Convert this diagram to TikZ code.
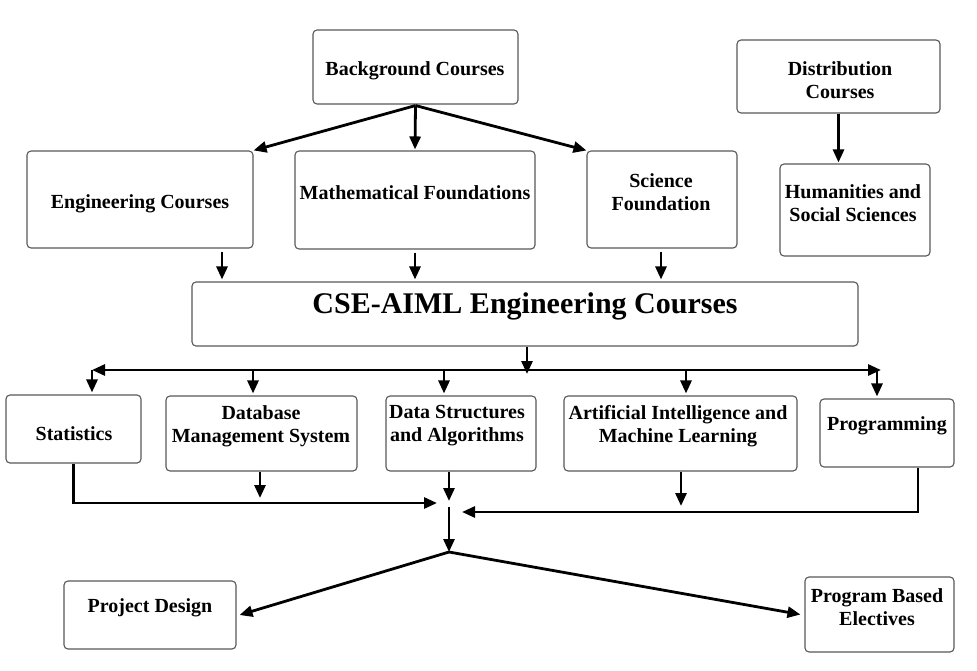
\documentclass[tikz,border=0pt]{standalone}
\usepackage{fontspec}
\setmainfont{Liberation Serif}
\usetikzlibrary{arrows.meta}
\begin{document}
\begin{tikzpicture}[x=1pt,y=-1pt,
 box/.style={draw=black!65, line width=1.1pt, rounded corners=4pt, fill=white, inner sep=0pt},
 lbl/.style={font=\bfseries\fontsize{20}{23}\selectfont, align=center, inner sep=0pt, yshift=-3pt},
 big/.style={font=\bfseries\fontsize{30}{34}\selectfont, inner sep=0pt, yshift=-3pt},
 arr/.style={line width=2.8pt, -{Triangle[length=13pt,width=11pt]}},
 ln/.style={line width=2.8pt}]
\useasboundingbox[fill=white] (0,0) rectangle (977,670);

% boxes
\node[box, minimum width=205pt, minimum height=74pt] (bg)   at (415.5,67) {};
\node[box, minimum width=203pt, minimum height=73pt] (dist) at (838.5,76.5) {};
\node[box, minimum width=226pt, minimum height=97pt] (eng)  at (140,199.5) {};
\node[box, minimum width=240pt, minimum height=98pt] (math) at (415,200) {};
\node[box, minimum width=150pt, minimum height=97pt] (sci)  at (662,199.5) {};
\node[box, minimum width=150pt, minimum height=92pt] (hum)  at (855,210) {};
\node[box, minimum width=666pt, minimum height=64pt] (cse)  at (525,314) {};
\node[box, minimum width=135pt, minimum height=68pt] (stat) at (73.5,429) {};
\node[box, minimum width=191pt, minimum height=75pt] (dbms) at (261.5,433.5) {};
\node[box, minimum width=150pt, minimum height=75pt] (dsa)  at (461,433.5) {};
\node[box, minimum width=233pt, minimum height=75pt] (ai)   at (680.5,433.5) {};
\node[box, minimum width=134pt, minimum height=68pt] (prog) at (887,433) {};
\node[box, minimum width=172pt, minimum height=68pt] (pd)   at (150,615) {};
\node[box, minimum width=149pt, minimum height=75pt] (pbe)  at (879.5,614.5) {};

% texts
\node[lbl] (bgT)   at (415,68)  {Background Courses};
\node[lbl] (distT) at (840,77)  {Distribution\\Courses};
\node[lbl] (engT)  at (140,201) {Engineering Courses};
\node[lbl] (mathT) at (415,190) {Mathematical Foundations};
\node[lbl] (sciT)  at (661,189) {Science\\Foundation};
\node[lbl] (humT)  at (853,200) {Humanities and\\Social Sciences};
\node[big] (cseT)  at (525,303) {CSE-AIML Engineering Courses};
\node[lbl] (statT) at (74,431)  {Statistics};
\node[lbl] (dbmsT) at (261,423) {Database\\Management System};
\node[lbl] (dsaT)  at (457,423) {Data Structures\\and Algorithms};
\node[lbl] (aiT)   at (678,423) {Artificial Intelligence and\\Machine Learning};
\node[lbl] (progT) at (887,423) {Programming};
\node[lbl] (pdT)   at (150,605) {Project Design};
\node[lbl] (pbeT)  at (877,604) {Program Based\\Electives};

% top connectors
\draw[arr] ([yshift=-1pt]bg.south) -- (eng.north east);
\draw[arr] ([yshift=-1pt]bg.south) -- ([yshift=1pt]math.north);
\draw[arr] ([yshift=-1pt]bg.south) -- (sci.north west);
\draw[arr, shorten <=3pt, shorten >=2pt] ([xshift=82pt]eng.south) -- ([xshift=82pt]eng.south |- cse.north);
\draw[arr, shorten <=3pt, shorten >=2pt] (math.south) -- (math.south |- cse.north);
\draw[arr, shorten <=3pt, shorten >=2pt] ([xshift=-1pt]sci.south) -- ([xshift=-1pt]sci.south |- cse.north);
\draw[arr, shorten >=1pt] (dist.south) -- (dist.south |- hum.north);

% bus
\coordinate (busL) at (92,370);
\coordinate (busR) at (881,370);
\coordinate (bus)  at (527,374);
\draw[arr] ([xshift=2pt]cse.south) -- (bus);
\draw[ln, {Triangle[length=13pt,width=11pt]}-{Triangle[length=13pt,width=11pt]}] (busL) -- (busR);
\coordinate (t1) at (92,370);
\coordinate (t2) at (253,370);
\coordinate (t3) at (444,370);
\coordinate (t4) at (686,370);
\coordinate (t5) at (877,370);
\draw[arr, shorten >=2pt] (t1) -- (t1 |- stat.north);
\draw[arr, shorten >=2pt] (t2) -- (t2 |- dbms.north);
\draw[arr, shorten >=2pt] (t3) -- (t3 |- dsa.north);
\draw[arr, shorten >=2pt] (t4) -- (t4 |- ai.north);
\draw[arr, shorten >=2pt] (t5) -- (t5 |- prog.north);

% lower connectors
\coordinate (j1) at (437,503);
\coordinate (j2) at (462,512);
\coordinate (d2) at (260,498);
\coordinate (d3) at (449,501);
\coordinate (d4) at (681,506);
\coordinate (m1) at (449,507);
\coordinate (m2) at (449,552);
\draw[arr] (stat.south) |- (j1);
\draw[arr] (dbms.south -| d2) -- (d2);
\draw[arr] (dsa.south -| d3) -- (d3);
\draw[arr] (ai.south -| d4) -- (d4);
\draw[arr] ([xshift=31pt]prog.south) |- (j2);
\draw[arr] (m1) -- (m2);
\draw[arr] (m2) -- ([xshift=3pt]pd.east);
\draw[arr] (m2) -- ([xshift=-4pt]pbe.west);
\end{tikzpicture}
\end{document}
